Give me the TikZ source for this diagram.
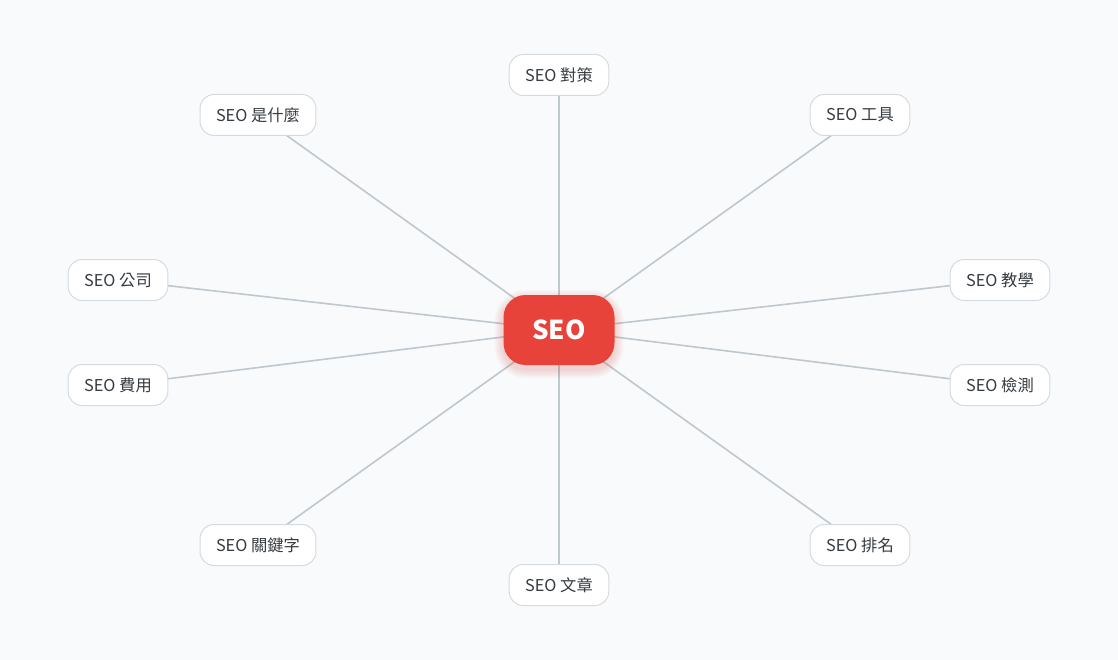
\documentclass[tikz,border=0pt]{standalone}
\usepackage{fontspec}
\setmainfont{Noto Sans CJK TC}
\usetikzlibrary{calc}
\pgfdeclarelayer{bg}
\pgfdeclarelayer{lines}
\pgfsetlayers{bg,lines,main}
\definecolor{bgc}{HTML}{F9FAFC}
\definecolor{redc}{HTML}{E8433A}
\definecolor{linec}{HTML}{BEC8CF}
\definecolor{borderc}{HTML}{D6DBE0}
\definecolor{textc}{HTML}{363B41}
\tikzset{
  leaf/.style={draw=borderc, line width=1pt, fill=white, rounded corners=14pt,
    minimum height=41pt, inner xsep=16pt, inner ysep=0pt, text=textc,
    font=\fontsize{16.3pt}{18pt}\selectfont},
  hub/.style={fill=redc, rounded corners=22pt, minimum width=111pt, minimum height=70pt,
    text=white, font=\fontsize{26pt}{28pt}\selectfont\bfseries, inner sep=0pt},
  spoke/.style={draw=linec, line width=1.6pt}
}
\begin{document}
\begin{tikzpicture}[x=1pt,y=-1pt]
\begin{pgfonlayer}{bg}
\fill[bgc] (0,0) rectangle (1118,660);
\end{pgfonlayer}
\useasboundingbox (0,0) rectangle (1118,660);
\coordinate (c) at (559,330);
\node[leaf] (n1) at (559,75) {SEO 對策};
\node[leaf] (n2) at (860,115) {SEO 工具};
\node[leaf] (n3) at (1000,280) {SEO 教學};
\node[leaf] (n4) at (1000,385) {SEO 檢測};
\node[leaf] (n5) at (860,545) {SEO 排名};
\node[leaf] (n6) at (559,585) {SEO 文章};
\node[leaf] (n7) at (258,545) {SEO 關鍵字};
\node[leaf] (n8) at (118,385) {SEO 費用};
\node[leaf] (n9) at (118,280) {SEO 公司};
\node[leaf] (n10) at (258,115) {SEO 是什麼};
\foreach \k in {1,...,9}{
  \fill[redc, opacity=0.022, rounded corners={22pt+\k pt}]
    ($(c)+(-55.5-\k,-35-\k+4)$) rectangle ($(c)+(55.5+\k,35+\k+4)$);
}
\node[hub] (hub) at (c) {SEO};
\begin{pgfonlayer}{lines}
\foreach \i in {1,...,10}{
  \draw[spoke] (hub.center) -- (n\i.center);
}
\end{pgfonlayer}
\end{tikzpicture}
\end{document}
